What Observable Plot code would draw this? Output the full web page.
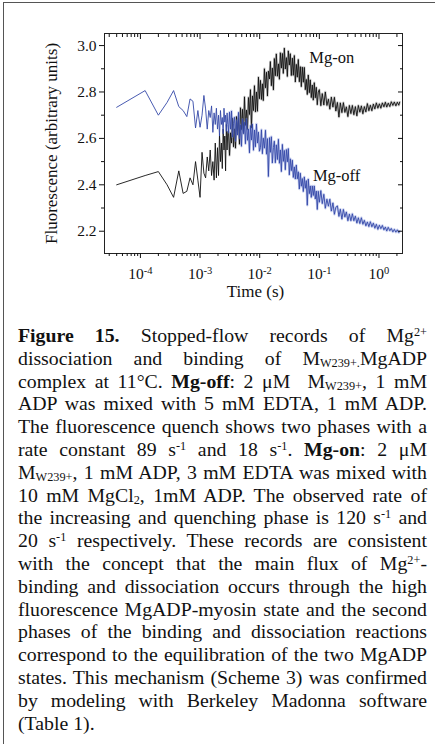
<!DOCTYPE html>
<html><head><meta charset="utf-8">
<script src="https://cdn.jsdelivr.net/npm/d3@7"></script>
<script src="https://cdn.jsdelivr.net/npm/@observablehq/plot@0.6"></script>
<style>
html,body{margin:0;padding:0;background:#fff;}
#page{position:relative;width:435px;height:744px;overflow:hidden;font-family:"Liberation Serif","Times New Roman",serif;color:#111;}
#chart{position:absolute;left:0;top:0;}
#border{position:absolute;left:3px;top:2px;width:470px;height:790px;border-left:1.5px solid #555;border-top:1.5px solid #555;z-index:2;pointer-events:none;}
#caption{position:absolute;left:18px;top:324px;width:409px;font-size:19.8px;line-height:22.8px;}
#caption .ln{height:22.8px;text-align:justify;text-align-last:justify;}
#caption .ln.last{text-align-last:left;}
sup,sub{font-size:0.62em;line-height:0;position:relative;vertical-align:baseline;}
sup{top:-0.5em;} sub{top:0.22em;}
</style></head>
<body>
<div id="page">
  <div id="chart"></div>
  <div id="caption">
    <div class="ln"><b>Figure 15.</b> Stopped-flow records of Mg<sup>2+</sup></div>
    <div class="ln">dissociation and binding of M<sub>W239+.</sub>MgADP</div>
    <div class="ln">complex at 11°C. <b>Mg-off</b>: 2 μM&nbsp; M<sub>W239+</sub>, 1 mM</div>
    <div class="ln">ADP was mixed with 5 mM EDTA, 1 mM ADP.</div>
    <div class="ln">The fluorescence quench shows two phases with a</div>
    <div class="ln">rate constant 89 s<sup>-1</sup> and 18 s<sup>-1</sup>. <b>Mg-on</b>: 2 μM</div>
    <div class="ln">M<sub>W239+</sub>, 1 mM ADP, 3 mM EDTA was mixed with</div>
    <div class="ln">10 mM MgCl<sub>2</sub>, 1mM ADP. The observed rate of</div>
    <div class="ln">the increasing and quenching phase is 120 s<sup>-1</sup> and</div>
    <div class="ln">20 s<sup>-1</sup> respectively. These records are consistent</div>
    <div class="ln">with the concept that the main flux of Mg<sup>2+</sup>-</div>
    <div class="ln">binding and dissociation occurs through the high</div>
    <div class="ln">fluorescence MgADP-myosin state and the second</div>
    <div class="ln">phases of the binding and dissociation reactions</div>
    <div class="ln">correspond to the equilibration of the two MgADP</div>
    <div class="ln">states. This mechanism (Scheme 3) was confirmed</div>
    <div class="ln">by modeling with Berkeley Madonna software</div>
    <div class="ln last">(Table 1).</div>
  </div>
  <div id="border"></div>
</div>
<script>
// ---- data ----
const time = [
  0.00004,0.00012,0.0002,0.00028,0.00036,0.00044,0.00052,0.0006,0.00068,0.00076,0.00084,0.00092,0.001,0.00108,0.00116,0.00124,0.00132,0.0014,0.00148,0.00156,0.00164,0.00172,0.0018,0.00188,0.00196,
  0.00204,0.00212,0.0022,0.00228,0.00236,0.00244,0.00252,0.0026,0.00268,0.00276,0.00284,0.00292,
  0.003,0.00312,0.00324,0.00337,0.0035,0.00364,0.00378,0.00393,0.00408,0.00424,0.00441,0.00458,0.00476,0.00495,0.00514,0.00535,0.00556,0.00577,0.006,0.00624,0.00648,0.00674,0.007,0.00728,0.00756,0.00786,0.00817,0.00849,0.00882,0.00917,0.00953,0.0099,
  0.0103,0.0107,0.0111,0.0115,0.012,0.0125,0.013,0.0135,0.014,0.0146,0.0151,0.0157,0.0163,0.017,0.0176,0.0183,0.019,0.0198,0.0206,0.0214,0.0222,0.0231,0.024,0.0249,0.0259,0.0269,0.028,0.0291,0.0302,0.0314,0.0326,0.0339,0.0353,0.0366,0.0381,0.0396,0.0411,0.0427,0.0444,0.0462,0.048,0.0499,0.0518,0.0539,0.056,0.0582,0.0605,0.0628,0.0653,0.0679,0.0705,0.0733,0.0762,0.0792,0.0823,0.0855,0.0889,0.0924,0.096,
  0.1,0.106,0.112,0.119,0.126,0.134,0.142,0.15,0.159,0.169,0.179,0.189,0.201,0.213,0.225,0.239,0.253,0.268,0.284,0.301,0.319,0.338,0.358,0.379,0.402,0.426,0.451,0.478,0.507,0.537,0.569,0.603,0.639,0.677,0.717,0.76,0.805,0.853,0.904,0.958,1.015,1.075,1.14,1.21,1.28,1.35,1.43,1.52,1.61,1.71,1.81,1.92,2.03,2.15,2.22
];
const mgOn = [
  2.40,2.44,2.457,2.40,2.346,2.46,2.363,2.372,2.43,2.40,2.50,2.42,2.346,2.54,2.45,2.43,2.52,2.46,2.55,2.44,2.50,2.42,2.58,2.43,2.56,
  2.44,2.62,2.50,2.58,2.47,2.64,2.55,2.61,2.46,2.66,2.55,2.63,
  2.630,2.527,2.624,2.580,2.687,2.564,2.641,2.558,2.694,2.631,2.688,2.575,2.732,2.638,2.725,2.622,2.779,2.656,2.722,2.639,2.776,2.703,2.810,2.646,2.783,2.720,2.827,2.714,2.800,2.717,2.864,2.771,
  2.850,2.768,2.835,2.763,2.900,2.818,2.885,2.783,2.890,2.856,2.931,2.827,2.903,2.809,2.944,2.870,2.964,2.868,2.921,2.855,2.969,2.903,2.966,2.880,2.989,2.899,2.948,2.867,2.977,2.916,2.965,2.871,2.946,2.872,2.957,2.843,2.919,2.864,2.940,2.844,2.909,2.823,2.907,2.842,2.906,2.810,2.854,2.789,2.873,2.797,2.852,2.776,2.830,2.765,2.840,2.775,2.820,2.745,2.800,
  2.810,2.741,2.793,2.744,2.800,2.742,2.769,2.726,2.778,2.735,2.777,2.718,2.755,2.692,2.753,2.711,2.754,2.712,2.736,2.694,2.742,2.707,2.742,2.702,2.737,2.697,2.742,2.713,2.740,2.706,2.737,2.714,2.750,2.719,2.743,2.719,2.748,2.727,2.753,2.730,2.749,2.730,2.753,2.736,2.756,2.735,2.752,2.737,2.758,2.742,2.757,2.740,2.756,2.743,2.756
];
const mgOff = [
  2.734,2.806,2.70,2.755,2.806,2.737,2.72,2.694,2.77,2.76,2.645,2.72,2.648,2.70,2.785,2.727,2.64,2.72,2.69,2.74,2.626,2.71,2.66,2.73,2.64,
  2.70,2.61,2.72,2.66,2.69,2.62,2.73,2.67,2.70,2.63,2.71,2.66,
  2.625,2.713,2.640,2.718,2.606,2.664,2.691,2.589,2.677,2.615,2.712,2.600,2.658,2.566,2.683,2.621,2.669,2.577,2.684,2.592,2.640,2.538,2.655,2.593,2.661,2.549,2.636,2.564,2.662,2.580,2.627,2.545,
  2.560,2.637,2.534,2.601,2.558,2.635,2.532,2.599,2.436,2.603,2.540,2.607,2.494,2.561,2.588,2.495,2.572,2.509,2.596,2.493,2.550,2.457,2.574,2.501,2.548,2.465,2.552,2.499,2.556,2.443,
  2.512,2.461,2.506,2.432,2.477,2.425,2.485,2.426,2.456,2.382,2.450,2.394,2.427,2.371,2.434,2.385,2.418,2.312,2.425,2.362,2.395,2.346,2.395,2.354,2.395,2.339,2.373,2.294,2.372,
  2.325,2.375,2.319,2.359,2.299,2.338,2.308,2.338,2.287,2.322,2.273,2.303,2.309,2.264,2.295,2.252,2.294,2.261,2.283,2.245,2.274,2.245,2.275,2.245,2.265,2.235,2.258,2.233,2.258,2.230,2.247,2.223,2.240,2.220,2.241,2.219,2.235,2.213,2.230,2.208,2.226,2.211,2.225,2.206,2.218,2.201,2.217,2.202,2.212,2.197,2.208,2.196,2.206,2.194,2.200
];
const seriesNames = ["Mg-on", "Mg-off"];
const labelTime = [0.068, 0.078];
const labelValue = [2.927, 2.415];
const xMajor = [1e-4, 1e-3, 1e-2, 1e-1, 1];
const xMajorLabels = ["10^-4", "10^-3", "10^-2", "10^-1", "10^0"];
const xMinor = [3e-5,4e-5,5e-5,6e-5,7e-5,8e-5,9e-5,
  2e-4,3e-4,4e-4,5e-4,6e-4,7e-4,8e-4,9e-4,
  2e-3,3e-3,4e-3,5e-3,6e-3,7e-3,8e-3,9e-3,
  2e-2,3e-2,4e-2,5e-2,6e-2,7e-2,8e-2,9e-2,
  0.2,0.3,0.4,0.5,0.6,0.7,0.8,0.9,2];
const yMajor = [2.2, 2.4, 2.6, 2.8, 3.0];
const yMinor = [2.3, 2.5, 2.7, 2.9];
const yTitle = "Fluorescence (arbitrary units)";
const xTitle = "Time (s)";

// ---- build tables ----
const onRows = time.map((t, i) => ({t, v: mgOn[i]}));
const offRows = time.map((t, i) => ({t, v: mgOff[i]}));
const labels = seriesNames.map((s, i) => ({s, t: labelTime[i], v: labelValue[i]}));
const dense = d => d.t >= 0.003;

const none = () => "";
const chart = Plot.plot({
  width: 435, height: 310,
  marginLeft: 104, marginRight: 33, marginTop: 33, marginBottom: 57,
  x: {type: "log", domain: [2.5e-5, 2.48], label: null},
  y: {domain: [2.104, 3.052], label: null},
  style: {fontFamily: "'Liberation Serif','Times New Roman',serif", fontSize: "15.5px", color: "#111", background: "transparent"},
  marks: [
    Plot.line(onRows.filter(dense), {x: "t", y: "v", stroke: "#444", strokeWidth: 2.4, strokeOpacity: 0.3}),
    Plot.line(onRows, {x: "t", y: "v", stroke: "#111", strokeWidth: 0.9}),
    Plot.line(offRows.filter(dense), {x: "t", y: "v", stroke: "#6f82d4", strokeWidth: 2.4, strokeOpacity: 0.4}),
    Plot.line(offRows, {x: "t", y: "v", stroke: "#3448a8", strokeWidth: 0.9}),
    Plot.frame({stroke: "#222", strokeWidth: 1}),
    Plot.axisX({ticks: xMajor, tickSize: 5, tickPadding: 9, tickFormat: d => xMajorLabels[xMajor.indexOf(d)], label: null, fontSize: 15.5}),
    Plot.axisX({ticks: xMinor, tickSize: 3, tickFormat: none, label: null}),
    Plot.axisX({anchor: "top", ticks: xMajor, tickSize: 5, dy: 5, tickFormat: none, label: null}),
    Plot.axisX({anchor: "top", ticks: xMinor, tickSize: 3, dy: 3, tickFormat: none, label: null}),
    Plot.axisY({ticks: yMajor, tickSize: 5, tickPadding: 3, tickFormat: d => d.toFixed(1), label: null, fontSize: 15.5}),
    Plot.axisY({ticks: yMinor, tickSize: 3, tickFormat: none, label: null}),
    Plot.axisY({anchor: "right", ticks: yMajor, tickSize: 5, dx: -5, tickFormat: none, label: null}),
    Plot.axisY({anchor: "right", ticks: yMinor, tickSize: 3, dx: -3, tickFormat: none, label: null}),
    Plot.text([yTitle], {frameAnchor: "left", textAnchor: "middle", rotate: -90, dx: -53, fontSize: 17}),
    Plot.text([xTitle], {frameAnchor: "bottom", dy: 43, dx: 2, lineAnchor: "bottom", fontSize: 17}),
    Plot.text(labels, {x: "t", y: "v", text: "s", textAnchor: "start", lineAnchor: "bottom", fontSize: 16.5, fill: "#111"})
  ]
});
document.getElementById("chart").appendChild(chart);

// superscript exponents on the x tick labels
const ns = "http://www.w3.org/2000/svg";
chart.querySelectorAll("text").forEach(t => {
  const s = t.textContent;
  if (!s.includes("^")) return;
  const [b, e] = s.split("^");
  t.textContent = "";
  const a = document.createElementNS(ns, "tspan"); a.textContent = b;
  const c = document.createElementNS(ns, "tspan"); c.textContent = e;
  c.setAttribute("dy", "-0.45em"); c.setAttribute("font-size", "10.5");
  t.append(a, c);
});
</script>
</body></html>
